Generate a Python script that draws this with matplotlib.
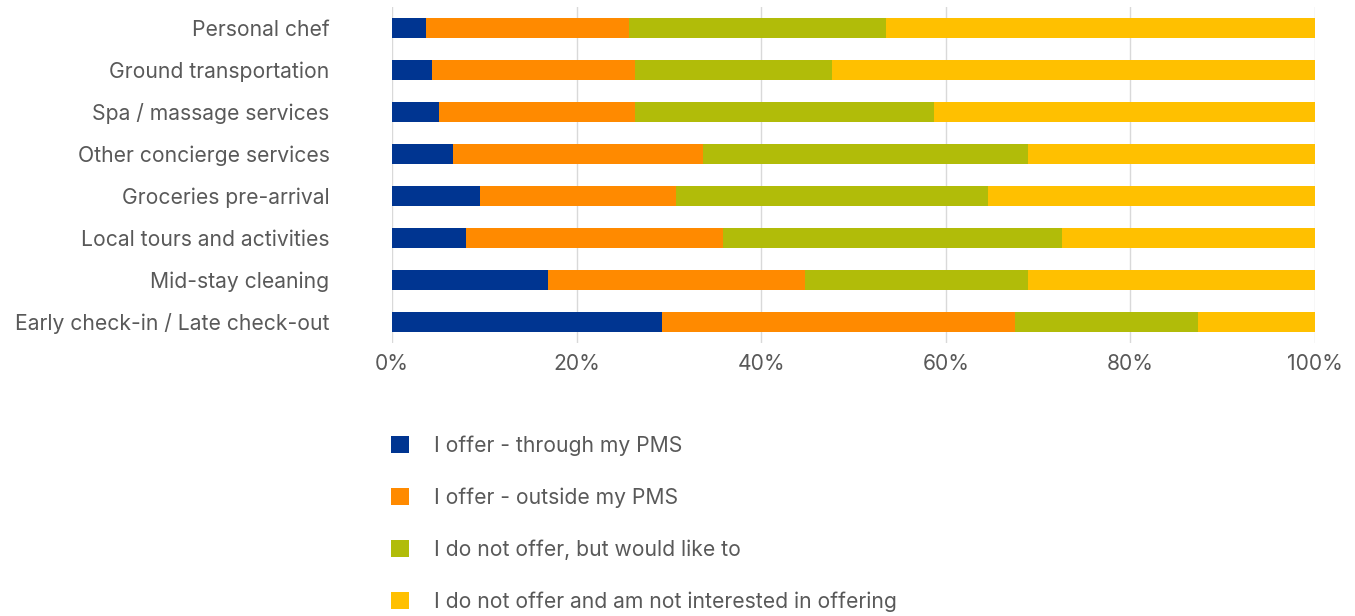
import matplotlib
matplotlib.use('Agg')
import matplotlib.pyplot as plt
import numpy as np

plt.rcParams['font.family'] = ['Inter', 'DejaVu Sans']

services = ['Personal chef', 'Ground transportation', 'Spa / massage services',
            'Other concierge services', 'Groceries pre-arrival',
            'Local tours and activities', 'Mid-stay cleaning',
            'Early check-in / Late check-out']

# percentages per answer
through_pms = [3.7, 4.3, 5.1, 6.6, 9.5, 8.0, 16.9, 29.3]
outside_pms = [22.0, 22.0, 21.2, 27.1, 21.3, 27.9, 27.8, 38.2]
would_like = [27.8, 21.4, 32.4, 35.2, 33.8, 36.7, 24.2, 19.8]
not_interested = [46.5, 52.3, 41.3, 31.1, 35.4, 27.4, 31.1, 12.7]

series_labels = ['I offer - through my PMS', 'I offer - outside my PMS',
                 'I do not offer, but would like to',
                 'I do not offer and am not interested in offering']
colors = ['#003591', '#FF8A00', '#B1BC09', '#FFC000']
text_color = '#595959'
fs = 15.2

fig = plt.figure(figsize=(13.55, 6.16), dpi=100)
ax = fig.add_axes([392 / 1355, 1 - 343 / 616, (1315 - 392) / 1355, 336 / 616])

y = np.arange(len(services))
left = np.zeros(len(services))
for vals, lab, c in zip([through_pms, outside_pms, would_like, not_interested],
                        series_labels, colors):
    ax.barh(y, vals, left=left, height=0.48, color=c, label=lab, zorder=3)
    left += np.array(vals)

ax.set_xlim(0, 100)
ax.set_ylim(len(services) - 0.5, -0.5)
ax.set_yticks(y)
ax.set_yticklabels(services, fontsize=fs, color=text_color)
ax.set_xticks(np.arange(0, 101, 20))
ax.set_xticklabels([f'{v}%' for v in range(0, 101, 20)], fontsize=fs, color=text_color)
ax.tick_params(length=0)
ax.tick_params(axis='y', pad=45)
ax.tick_params(axis='x', pad=8)
ax.grid(axis='x', color='#D9D9D9', linewidth=1, zorder=0)
for s in ax.spines.values():
    s.set_visible(False)

handles, labels = ax.get_legend_handles_labels()
fig.legend(handles, labels, loc='upper left', bbox_to_anchor=(372 / 1355, 1 - 416 / 616),
           frameon=False, fontsize=fs, labelcolor=text_color, handlelength=0.85,
           handleheight=0.85, handletextpad=1.18, labelspacing=1.5)

fig.savefig('out.png', dpi=100)
